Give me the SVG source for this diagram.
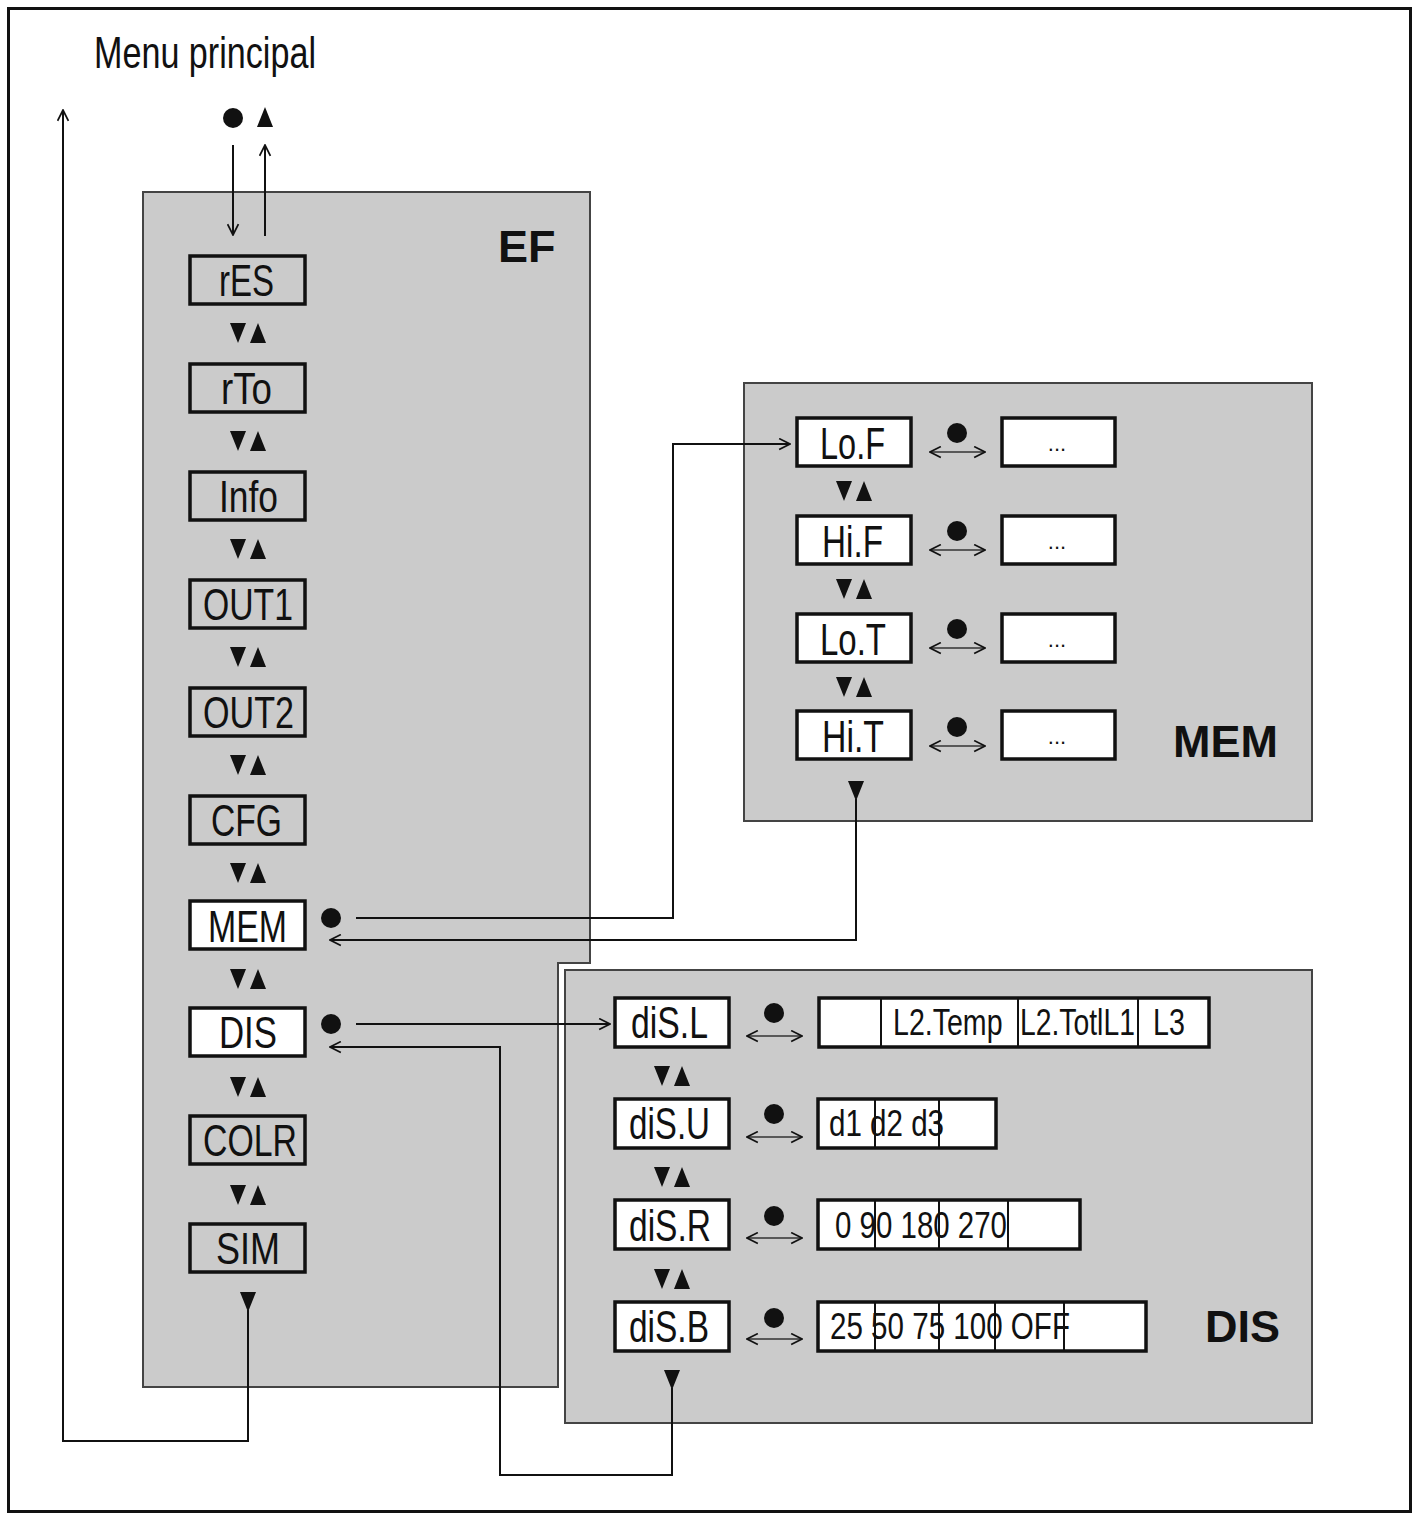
<svg xmlns="http://www.w3.org/2000/svg" xmlns:xlink="http://www.w3.org/1999/xlink" width="1415" height="1515" viewBox="0 0 1415 1515">
<style>
.frame{fill:#fff;stroke:#111;stroke-width:3}
.panel{fill:#cbcbcb;stroke:#444;stroke-width:2}
.box{fill:#cbcbcb;stroke:#111;stroke-width:3.5}
.wbox{fill:#fff;stroke:#111;stroke-width:3.5}
.div{stroke:#111;stroke-width:2}
.lbl{font-family:"Liberation Sans",Arial,sans-serif;font-size:44px;fill:#111}
.opt{font-family:"Liberation Sans",Arial,sans-serif;font-size:37px;fill:#111}
.ttl{font-family:"Liberation Sans",Arial,sans-serif;font-size:45px;font-weight:bold;fill:#111}
.dots{font-family:"Liberation Sans",Arial,sans-serif;font-size:22px;fill:#111;text-anchor:middle}
.con{fill:none;stroke:#111;stroke-width:2}
.dbl{fill:none;stroke:#333;stroke-width:1.6;marker-start:url(#ah);marker-end:url(#ah)}
.tri{fill:#111}
</style>
<defs>
<marker id="ah" viewBox="0 0 12 12" refX="11" refY="6" markerWidth="13" markerHeight="13" markerUnits="userSpaceOnUse" orient="auto-start-reverse">
<path d="M1,1 L11,6 L1,11" fill="none" stroke="#111" stroke-width="1.6"/>
</marker>
<path id="dn" d="M-8,-10 L8,-10 L0,10 Z"/>
<path id="up" d="M-8,10 L8,10 L0,-10 Z"/>
</defs>

<rect class="frame" x="8.5" y="8.5" width="1402" height="1503"/>

<text class="lbl" x="94" y="68" textLength="222" lengthAdjust="spacingAndGlyphs" font-size="41">Menu principal</text>
<circle cx="233" cy="118" r="10" fill="#111"/>
<use xlink:href="#up" x="265" y="117" class="tri"/>

<g id="EF">
<path class="panel" d="M143,192 H590 V963 H558 V1387 H143 Z"/>
<text class="ttl" x="498" y="262">EF</text>
</g>

<g id="MEMpanel">
<rect class="panel" x="744" y="383" width="568" height="438"/>
<text class="ttl" x="1173" y="757" font-size="46">MEM</text>
</g>

<g id="DISpanel">
<rect x="560" y="965" width="757" height="463" fill="#fff"/>
<rect class="panel" x="565" y="970" width="747" height="453"/>
<text class="ttl" x="1205" y="1342">DIS</text>
</g>

<g id="rES"><rect class="box" x="190" y="256" width="115" height="48"/><text class="lbl" x="219" y="296" textLength="55" lengthAdjust="spacingAndGlyphs">rES</text></g>
<g id="rTo"><rect class="box" x="190" y="364" width="115" height="48"/><text class="lbl" x="221" y="404" textLength="51" lengthAdjust="spacingAndGlyphs">rTo</text></g>
<g id="Info"><rect class="box" x="190" y="472" width="115" height="48"/><text class="lbl" x="219" y="512" textLength="59" lengthAdjust="spacingAndGlyphs">Info</text></g>
<g id="OUT1"><rect class="box" x="190" y="580" width="115" height="48"/><text class="lbl" x="203" y="620" textLength="90" lengthAdjust="spacingAndGlyphs">OUT1</text></g>
<g id="OUT2"><rect class="box" x="190" y="688" width="115" height="48"/><text class="lbl" x="203" y="728" textLength="91" lengthAdjust="spacingAndGlyphs">OUT2</text></g>
<g id="CFG"><rect class="box" x="190" y="796" width="115" height="48"/><text class="lbl" x="211" y="836" textLength="71" lengthAdjust="spacingAndGlyphs">CFG</text></g>
<g id="MEM"><rect class="wbox" x="190" y="901" width="115" height="48"/><text class="lbl" x="208" y="942" textLength="79" lengthAdjust="spacingAndGlyphs">MEM</text></g>
<g id="DIS"><rect class="wbox" x="190" y="1008" width="115" height="48"/><text class="lbl" x="219" y="1048" textLength="58" lengthAdjust="spacingAndGlyphs">DIS</text></g>
<g id="COLR"><rect class="box" x="190" y="1116" width="115" height="48"/><text class="lbl" x="203" y="1156" textLength="94" lengthAdjust="spacingAndGlyphs">COLR</text></g>
<g id="SIM"><rect class="box" x="190" y="1224" width="115" height="48"/><text class="lbl" x="216" y="1264" textLength="64" lengthAdjust="spacingAndGlyphs">SIM</text></g>

<g id="EFnav" class="tri">
<use xlink:href="#dn" x="238" y="333"/><use xlink:href="#up" x="258" y="333"/>
<use xlink:href="#dn" x="238" y="441"/><use xlink:href="#up" x="258" y="441"/>
<use xlink:href="#dn" x="238" y="549"/><use xlink:href="#up" x="258" y="549"/>
<use xlink:href="#dn" x="238" y="657"/><use xlink:href="#up" x="258" y="657"/>
<use xlink:href="#dn" x="238" y="765"/><use xlink:href="#up" x="258" y="765"/>
<use xlink:href="#dn" x="238" y="873"/><use xlink:href="#up" x="258" y="873"/>
<use xlink:href="#dn" x="238" y="979"/><use xlink:href="#up" x="258" y="979"/>
<use xlink:href="#dn" x="238" y="1087"/><use xlink:href="#up" x="258" y="1087"/>
<use xlink:href="#dn" x="238" y="1195"/><use xlink:href="#up" x="258" y="1195"/>
<use xlink:href="#dn" x="248" y="1302"/>
<circle cx="331" cy="918" r="10"/>
<circle cx="331" cy="1024" r="10"/>
</g>

<g id="LoF"><rect class="wbox" x="797" y="418" width="114" height="48"/><text class="lbl" x="820" y="459" textLength="65" lengthAdjust="spacingAndGlyphs">Lo.F</text></g>
<g id="HiF"><rect class="wbox" x="797" y="516" width="114" height="48"/><text class="lbl" x="822" y="557" textLength="61" lengthAdjust="spacingAndGlyphs">Hi.F</text></g>
<g id="LoT"><rect class="wbox" x="797" y="614" width="114" height="48"/><text class="lbl" x="820" y="655" textLength="66" lengthAdjust="spacingAndGlyphs">Lo.T</text></g>
<g id="HiT"><rect class="wbox" x="797" y="711" width="114" height="48"/><text class="lbl" x="822" y="752" textLength="62" lengthAdjust="spacingAndGlyphs">Hi.T</text></g>

<g id="MEMvals">
<rect class="wbox" x="1002" y="418" width="113" height="48"/><text class="dots" x="1057" y="451">...</text>
<rect class="wbox" x="1002" y="516" width="113" height="48"/><text class="dots" x="1057" y="549">...</text>
<rect class="wbox" x="1002" y="614" width="113" height="48"/><text class="dots" x="1057" y="647">...</text>
<rect class="wbox" x="1002" y="711" width="113" height="48"/><text class="dots" x="1057" y="744">...</text>
</g>

<g id="MEMnav" class="tri">
<use xlink:href="#dn" x="844" y="491"/><use xlink:href="#up" x="864" y="491"/>
<use xlink:href="#dn" x="844" y="589"/><use xlink:href="#up" x="864" y="589"/>
<use xlink:href="#dn" x="844" y="687"/><use xlink:href="#up" x="864" y="687"/>
<use xlink:href="#dn" x="856" y="791"/>
<circle cx="957" cy="433" r="10"/>
<circle cx="957" cy="531" r="10"/>
<circle cx="957" cy="629" r="10"/>
<circle cx="957" cy="727" r="10"/>
</g>

<g id="diSL"><rect class="wbox" x="615" y="998" width="114" height="49"/><text class="lbl" x="631" y="1038" textLength="77" lengthAdjust="spacingAndGlyphs">diS.L</text></g>
<g id="diSU"><rect class="wbox" x="615" y="1099" width="114" height="49"/><text class="lbl" x="629" y="1139" textLength="81" lengthAdjust="spacingAndGlyphs">diS.U</text></g>
<g id="diSR"><rect class="wbox" x="615" y="1200" width="114" height="49"/><text class="lbl" x="629" y="1241" textLength="82" lengthAdjust="spacingAndGlyphs">diS.R</text></g>
<g id="diSB"><rect class="wbox" x="615" y="1302" width="114" height="49"/><text class="lbl" x="629" y="1342" textLength="80" lengthAdjust="spacingAndGlyphs">diS.B</text></g>

<g id="DISvals">
<rect class="wbox" x="819" y="998" width="390" height="49"/>
<text class="opt" transform="translate(893,1035) scale(0.772,1)">L2.Temp</text>
<text class="opt" transform="translate(1020,1035) scale(0.765,1)">L2.TotlL1</text>
<text class="opt" transform="translate(1153,1035) scale(0.775,1)">L3</text>
<line class="div" x1="881" y1="998" x2="881" y2="1047"/>
<line class="div" x1="1018" y1="998" x2="1018" y2="1047"/>
<line class="div" x1="1138" y1="998" x2="1138" y2="1047"/>

<rect class="wbox" x="818" y="1099" width="178" height="49"/>
<text class="opt" x="829" y="1136" textLength="115" lengthAdjust="spacingAndGlyphs">d1 d2 d3</text>
<line class="div" x1="875" y1="1099" x2="875" y2="1148"/>
<line class="div" x1="939" y1="1099" x2="939" y2="1148"/>

<rect class="wbox" x="818" y="1200" width="262" height="49"/>
<text class="opt" x="835" y="1238" textLength="172" lengthAdjust="spacingAndGlyphs">0 90 180 270</text>
<line class="div" x1="875" y1="1200" x2="875" y2="1249"/>
<line class="div" x1="939" y1="1200" x2="939" y2="1249"/>
<line class="div" x1="1008" y1="1200" x2="1008" y2="1249"/>

<rect class="wbox" x="818" y="1302" width="328" height="49"/>
<text class="opt" x="830" y="1339" textLength="240" lengthAdjust="spacingAndGlyphs">25 50 75 100 OFF</text>
<line class="div" x1="875" y1="1302" x2="875" y2="1351"/>
<line class="div" x1="939" y1="1302" x2="939" y2="1351"/>
<line class="div" x1="995" y1="1302" x2="995" y2="1351"/>
<line class="div" x1="1064" y1="1302" x2="1064" y2="1351"/>
</g>

<g id="DISnav" class="tri">
<use xlink:href="#dn" x="662" y="1076"/><use xlink:href="#up" x="682" y="1076"/>
<use xlink:href="#dn" x="662" y="1177"/><use xlink:href="#up" x="682" y="1177"/>
<use xlink:href="#dn" x="662" y="1279"/><use xlink:href="#up" x="682" y="1279"/>
<use xlink:href="#dn" x="672" y="1380"/>
<circle cx="774" cy="1013" r="10"/>
<circle cx="774" cy="1114" r="10"/>
<circle cx="774" cy="1216" r="10"/>
<circle cx="774" cy="1318" r="10"/>
</g>

<g id="connectors">
<path class="con" d="M233,145 V235" marker-end="url(#ah)"/>
<path class="con" d="M265,236 V145" marker-end="url(#ah)"/>
<path class="con" d="M248,1310 V1441 H63 V110" marker-end="url(#ah)"/>
<path class="con" d="M356,918 H673 V444 H790" marker-end="url(#ah)"/>
<path class="con" d="M856,799 V940 H330" marker-end="url(#ah)"/>
<path class="con" d="M356,1024 H610" marker-end="url(#ah)"/>
<path class="con" d="M672,1388 V1475 H500 V1047 H330" marker-end="url(#ah)"/>
<path class="dbl" d="M930,452 H985"/>
<path class="dbl" d="M930,550 H985"/>
<path class="dbl" d="M930,648 H985"/>
<path class="dbl" d="M930,746 H985"/>
<path class="dbl" d="M747,1036 H802"/>
<path class="dbl" d="M747,1137 H802"/>
<path class="dbl" d="M747,1238 H802"/>
<path class="dbl" d="M747,1339 H802"/>
</g>
</svg>
